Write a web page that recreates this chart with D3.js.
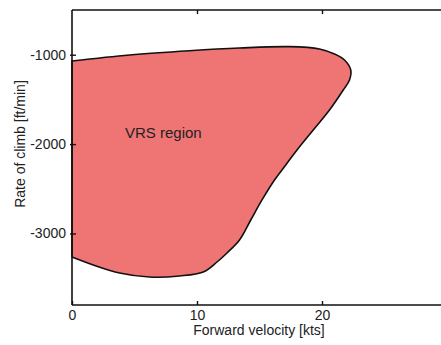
<!DOCTYPE html>
<html><head><meta charset="utf-8">
<script src="https://cdn.jsdelivr.net/npm/d3@7"></script>
<style>body{margin:0;background:#fff;overflow:hidden}svg{display:block}</style>
</head><body>
<script>
// Boundary of the VRS region (forward velocity [kts], rate of climb [ft/min])
const velocity = [0, 4.6, 9.4, 13.4, 17.4, 19.8, 21.0, 21.8, 22.3, 22.2, 21.7, 20.6, 19.3, 18.0, 17.1, 16.2, 15.2, 14.3, 13.4, 12.4, 11.6, 10.5, 8.6, 6.2, 3.8, 1.7, 0];
const rate = [-1070, -1003, -955, -925, -910, -936, -992, -1059, -1171, -1283, -1395, -1619, -1842, -2066, -2234, -2402, -2625, -2849, -3073, -3218, -3319, -3431, -3475, -3487, -3442, -3352, -3263];
const xTicks = [0, 10, 20];
const yTicks = [-1000, -2000, -3000];
const regionLabel = "VRS region";
const xTitle = "Forward velocity [kts]";
const yTitle = "Rate of climb [ft/min]";

const W = 441, H = 345;
const svg = d3.select("body").append("svg").attr("width", W).attr("height", H);
const x = d3.scaleLinear().domain([0, 30]).range([72, 447]);
const y = d3.scaleLinear().domain([-3800, -500]).range([305, 10]);

const pts = velocity.map((v, i) => [v, rate[i]]);
const line = d3.line().x(d => x(d[0])).y(d => y(d[1])).curve(d3.curveCatmullRom.alpha(0.5));
svg.append("path").attr("d", line(pts) + "Z").attr("fill", "#ef7575").attr("stroke", "#111").attr("stroke-width", 1.6);

const font = "'Liberation Sans', Arial, sans-serif";
const fmt = d => String(d);
// axes box
const g = svg.append("g").attr("stroke", "#111").attr("stroke-width", 1.6).attr("fill", "none");
g.append("line").attr("x1", x(0)).attr("x2", x(0)).attr("y1", y(-500)).attr("y2", y(-3800));
g.append("line").attr("x1", x(0)).attr("x2", x(30)).attr("y1", y(-500)).attr("y2", y(-500));
g.append("line").attr("x1", x(0)).attr("x2", x(30)).attr("y1", y(-3800)).attr("y2", y(-3800));

const xb = svg.append("g").attr("transform", `translate(0,${y(-3800)})`)
  .call(d3.axisBottom(x).tickValues(xTicks).tickFormat(fmt).tickSizeInner(-4).tickSizeOuter(0).tickPadding(5));
const xt = svg.append("g").attr("transform", `translate(0,${y(-500)})`)
  .call(d3.axisTop(x).tickValues(xTicks.slice(1)).tickSizeInner(-4).tickSizeOuter(0).tickFormat(""));
const yl = svg.append("g").attr("transform", `translate(${x(0)},0)`)
  .call(d3.axisLeft(y).tickValues(yTicks).tickFormat(fmt).tickSizeInner(4).tickSizeOuter(0).tickPadding(2));
[xb, xt, yl].forEach(a => {
  a.select(".domain").remove();
  a.selectAll("line").attr("stroke", "#111").attr("stroke-width", 1.4);
  a.selectAll("text").attr("font-family", font).attr("font-size", 14).attr("fill", "#222");
});
yl.selectAll(".tick line").attr("x2", 4).attr("x1", -2);

svg.append("text").attr("x", 125).attr("y", 138).attr("font-family", font).attr("font-size", 15)
  .attr("fill", "#222").text(regionLabel);
svg.append("text").attr("x", 259).attr("y", 335).attr("text-anchor", "middle").attr("font-family", font)
  .attr("font-size", 14).attr("fill", "#222").text(xTitle);
svg.append("text").attr("transform", "translate(25,144) rotate(-90)").attr("text-anchor", "middle")
  .attr("font-family", font).attr("font-size", 14).attr("fill", "#222").text(yTitle);
</script>
</body></html>
